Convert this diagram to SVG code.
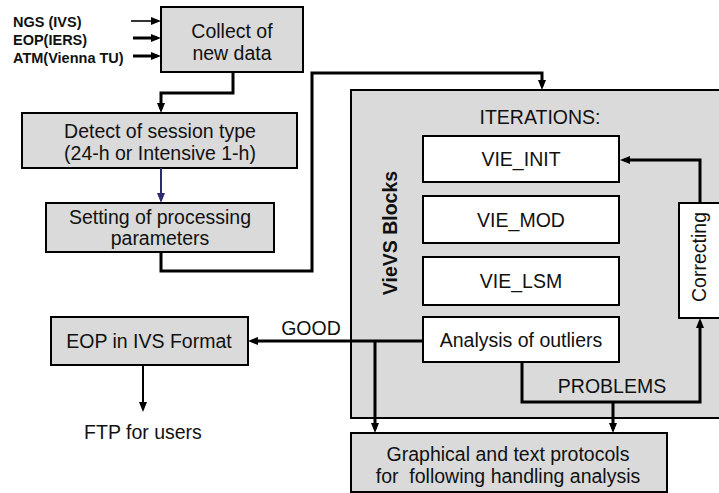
<svg xmlns="http://www.w3.org/2000/svg" width="719" height="493" viewBox="0 0 719 493">
  <defs>
    <style>
      .box { fill: #dadada; stroke: #000; stroke-width: 2; }
      .wbox { fill: #fff; stroke: #000; stroke-width: 2; }
      .t { font-family: "Liberation Sans", Arial, sans-serif; font-size: 19.5px; fill: #111; text-anchor: middle; }
      .tb { font-family: "Liberation Sans", Arial, sans-serif; font-size: 14.5px; font-weight: bold; fill: #111; }
      .c { fill: none; stroke: #000; stroke-width: 3; }
      .thin { stroke-width: 1.6; }
      .mid { stroke-width: 2; }
    </style>
    <marker id="ah" viewBox="0 0 10 10" refX="6" refY="5" markerWidth="10" markerHeight="10" markerUnits="userSpaceOnUse" orient="auto">
      <path d="M0,1 L10,5 L0,9 z" fill="#000"/>
    </marker>
    <marker id="ahn" viewBox="0 0 10 10" refX="6" refY="5" markerWidth="10" markerHeight="10" markerUnits="userSpaceOnUse" orient="auto">
      <path d="M0,1 L10,5 L0,9 z" fill="#2e2a6e"/>
    </marker>
  </defs>

  <!-- input sources -->
  <g id="inputs">
    <text class="tb" x="13" y="27">NGS (IVS)</text>
    <text class="tb" x="13" y="45">EOP(IERS)</text>
    <text class="tb" x="13" y="63">ATM(Vienna TU)</text>
  </g>

  <g id="collect">
    <rect class="box" x="161" y="7" width="142" height="65"/>
    <text class="t" x="232" y="38">Collect of</text>
    <text class="t" x="232" y="60">new data</text>
  </g>

  <g id="detect">
    <rect class="box" x="22" y="113" width="275" height="55"/>
    <text class="t" x="160" y="138">Detect of session type</text>
    <text class="t" x="160" y="160">(24-h or Intensive 1-h)</text>
  </g>

  <g id="setting">
    <rect class="box" x="46" y="203" width="228" height="49"/>
    <text class="t" x="160" y="224">Setting of processing</text>
    <text class="t" x="160" y="245">parameters</text>
  </g>

  <g id="vievs">
    <rect class="box" x="351" y="90" width="370" height="328"/>
    <text class="t" x="540" y="124">ITERATIONS:</text>
    <text class="t" font-weight="bold" font-size="19px" transform="translate(397,233) rotate(-90)">VieVS Blocks</text>
  </g>

  <g id="vie_init">
    <rect class="wbox" x="423" y="136" width="196" height="46"/>
    <text class="t" x="521" y="166">VIE_INIT</text>
  </g>

  <g id="vie_mod">
    <rect class="wbox" x="423" y="196" width="196" height="47"/>
    <text class="t" x="521" y="227">VIE_MOD</text>
  </g>

  <g id="vie_lsm">
    <rect class="wbox" x="423" y="257" width="196" height="48"/>
    <text class="t" x="521" y="288">VIE_LSM</text>
  </g>

  <g id="outliers">
    <rect class="wbox" x="423" y="317" width="196" height="45"/>
    <text class="t" x="521" y="347">Analysis of outliers</text>
  </g>

  <g id="correcting">
    <rect class="wbox" x="679" y="203" width="42" height="115"/>
    <text class="t" font-size="18px" transform="translate(706,257) rotate(-90)">Correcting</text>
  </g>

  <g id="eop">
    <rect class="box" x="51" y="317" width="197" height="48"/>
    <text class="t" x="149" y="348">EOP in IVS Format</text>
  </g>

  <g id="ftp">
    <text class="t" x="143" y="439">FTP for users</text>
  </g>

  <g id="protocols">
    <rect class="box" x="351" y="433" width="316" height="59"/>
    <text class="t" x="508" y="461">Graphical and text protocols</text>
    <text class="t" x="508" y="483" xml:space="preserve">for  following handling analysis</text>
  </g>

  <!-- connectors -->
  <g id="connectors">
    <path class="c thin" d="M131,21 H157" marker-end="url(#ah)"/>
    <path class="c" d="M133,38 H157" marker-end="url(#ah)"/>
    <path class="c" d="M133,56 H157" marker-end="url(#ah)"/>
    <path class="c" d="M233,72 V93 H161 V109" marker-end="url(#ah)"/>
    <path class="c mid" d="M161,168 V199" stroke="#2e2a6e" style="stroke:#2e2a6e" marker-end="url(#ahn)"/>
    <path class="c" d="M161,252 V271 H312 V73 H542 V86" marker-end="url(#ah)"/>
    <path class="c" d="M700,203 V160 H624" marker-end="url(#ah)"/>
    <path class="c" d="M522,362 V402 H700 V322" marker-end="url(#ah)"/>
    <path class="c" d="M613,402 V429" marker-end="url(#ah)"/>
    <path class="c" d="M423,341 H252" marker-end="url(#ah)"/>
    <path class="c" d="M375,341 V429" marker-end="url(#ah)"/>
    <path class="c mid" d="M143,365 V408" marker-end="url(#ah)"/>
    <text class="t" x="311" y="335">GOOD</text>
    <text class="t" x="612" y="393">PROBLEMS</text>
  </g>
</svg>
